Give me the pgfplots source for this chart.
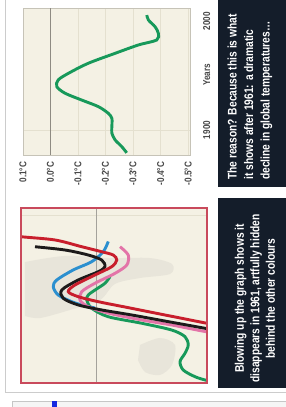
\documentclass[border=0pt]{standalone}
\usepackage{pgfplots}
\pgfplotsset{compat=1.18}
\usepackage{fontspec}
\setmainfont{Liberation Sans}
\newfontfamily\cb[FakeStretch=0.82]{Liberation Sans Bold}
\definecolor{cream}{HTML}{F4F1E4}
\definecolor{gridc}{HTML}{E4E0CF}
\definecolor{zeroc}{HTML}{8E8B82}
\definecolor{tgreen}{HTML}{17995A}
\definecolor{tred}{HTML}{C81E2C}
\definecolor{tblack}{HTML}{1C1A1A}
\definecolor{tblue}{HTML}{2B8FCF}
\definecolor{tpink}{HTML}{E374A8}
\definecolor{frame}{HTML}{C94A5C}
\definecolor{navy}{HTML}{141D2A}
\definecolor{smudge}{HTML}{E8E5DA}
\definecolor{labc}{HTML}{484848}
\definecolor{bluemark}{HTML}{1428E0}
\begin{document}
\begin{tikzpicture}[x=1pt,y=1pt]
\fill[white] (0,0) rectangle (286,407);
\useasboundingbox (0,0) rectangle (286,407);
% outer frame
\draw[gray!40, line width=0.7pt] (5,407) -- (5,15) -- (286,15);
\fill[gray!8] (12,0) rectangle (286,6);
\draw[gray!45, line width=0.6pt] (12,0) -- (12,6) -- (286,6);
\fill[bluemark] (52,0) rectangle (57,6);
% caption boxes
\fill[navy] (218,220) rectangle (286,407);
\fill[navy] (218,19) rectangle (286,209);
\node[rotate=90, text=white, align=left, inner sep=0pt,
      font=\cb\fontsize{12.5}{16.5}\selectfont] at (250,310)
  {The reason? Because this is what\\it shows after 1961: a dramatic\\decline in global temperatures\ldots};
\node[rotate=90, text=white, align=center, inner sep=0pt,
      font=\cb\fontsize{12.5}{15.5}\selectfont] at (255,108.5)
  {Blowing up the graph shows it\\disappears in 1961, artfully hidden\\behind the other colours};

% ---------------- top chart ----------------
\begin{axis}[
  at={(23pt,252pt)}, anchor=south west,
  width=167pt, height=147pt, scale only axis,
  xmin=-0.507, xmax=0.1, x dir=reverse,
  ymin=1877, ymax=2012,
  axis background/.style={fill=cream},
  axis line style={draw=gridc!70!gray, line width=0.6pt},
  tick style={draw=none},
  xtick={0.1,0,-0.1,-0.2,-0.3,-0.4,-0.5},
  xticklabels={0.1°C,0.0°C,-0.1°C,-0.2°C,-0.3°C,-0.4°C,-0.5°C},
  xmajorgrids, ymajorgrids,
  major grid style={draw=gridc, line width=0.6pt},
  ytick={1900}, yticklabels={1900},
  extra y ticks={2000}, extra y tick labels={2000},
  extra y tick style={grid=none},
  yticklabel pos=right,
  xticklabel style={yshift=-3.3pt, rotate=90, anchor=east, text=labc,
    font=\cb\fontsize{10}{10}\selectfont},
  yticklabel style={xshift=16.7pt, rotate=90, anchor=center, text=labc,
    font=\cb\fontsize{10}{10}\selectfont},
  ylabel={Years},
  ylabel style={at={(axis description cs:1.1,0.544)}, anchor=center, text=labc,
    font=\cb\fontsize{10}{10}\selectfont},
]
\addplot[zeroc, line width=1.1pt] coordinates {(0,1877) (0,2012)};
\addplot[tgreen, line width=2.9pt, smooth] coordinates {
(-0.277,1879) (-0.259,1884.7) (-0.235,1890.8) (-0.223,1897) (-0.223,1903)
(-0.223,1910.7) (-0.210,1915.3) (-0.174,1921.4) (-0.113,1927.5) (-0.053,1933.7)
(-0.023,1939.7) (-0.028,1945.9) (-0.065,1952) (-0.137,1961.2) (-0.235,1970.4)
(-0.319,1978) (-0.386,1982.6) (-0.392,1988.7) (-0.380,1994.8) (-0.356,2000.9)
(-0.350,2005.5)};
\end{axis}

% ---------------- bottom chart ----------------
\begin{axis}[
  at={(21pt,24pt)}, anchor=south west,
  width=186pt, height=175pt, scale only axis,
  xmin=-0.444, xmax=0.3, x dir=reverse,
  ymin=1850, ymax=2000,
  axis background/.style={fill=cream},
  axis line style={draw=frame, line width=1.8pt},
  ticks=none, axis on top,
]
\addplot[fill=smudge, draw=none, smooth] coordinates {
(0.284,1953.7) (0.124,1958.9) (-0.056,1957.1) (-0.216,1957.1) (-0.304,1952.0)
(-0.296,1943.4) (-0.176,1940.0) (-0.076,1934.9) (-0.016,1921.1) (0.104,1912.6)
(0.224,1905.7) (0.284,1907.4)} -- cycle;
\addplot[fill=smudge, draw=none, smooth] coordinates {
(-0.176,1882.6) (-0.256,1888.6) (-0.316,1882.6) (-0.304,1865.4) (-0.256,1856.9)
(-0.196,1859.4) (-0.168,1869.7)} -- cycle;
\addplot[gridc, line width=0.6pt] coordinates {(0.3,1994) (-0.444,1994)};
\addplot[zeroc!80, line width=0.7pt] coordinates {(0,1850) (0,2000)};
% green
\addplot[tgreen, line width=2.9pt, smooth] coordinates {
(-0.056,1941.1) (-0.036,1935.5) (0.004,1929.7) (0.031,1925.4) (0.037,1921.1)
(0.017,1914.0) (-0.049,1906.8) (-0.183,1901.2) (-0.303,1895.4) (-0.356,1889.7)
(-0.369,1882.6) (-0.356,1875.5) (-0.336,1868.3) (-0.349,1861.1) (-0.396,1855.4)
(-0.436,1852.6) (-0.47,1851)};
% blue
\addplot[tblue, line width=2.9pt, smooth] coordinates {
(-0.049,1971.3) (-0.029,1962.5) (0.017,1954.0) (0.091,1946.9) (0.157,1938.3)
(0.171,1932.5) (0.151,1925.4) (0.097,1919.7) (0.057,1916.9) (0.004,1914.3)};
% pink
\addplot[tpink, line width=2.9pt, smooth] coordinates {
(-0.096,1966.8) (-0.129,1959.7) (-0.123,1951.1) (-0.076,1944.0) (0.004,1935.5)
(0.057,1928.3) (0.064,1921.1) (0.031,1915.4) (-0.049,1909.9) (-0.183,1904.0)
(-0.303,1899.7) (-0.436,1894.1) (-0.47,1893)};
% black
\addplot[tblack, line width=2.9pt, smooth] coordinates {
(0.244,1966.8) (0.124,1964.0) (0.031,1959.7) (-0.023,1955.4) (-0.036,1949.7)
(-0.009,1945.4) (0.071,1938.3) (0.137,1929.7) (0.131,1922.6) (0.071,1916.9)
(-0.023,1912.6) (-0.143,1908.3) (-0.276,1903.1) (-0.436,1896.9) (-0.47,1895.6)};
% red
\addplot[tred, line width=2.9pt, smooth] coordinates {
(0.324,1976.9) (0.300,1975.4) (0.164,1972.6) (0.057,1966.8) (-0.023,1962.5)
(-0.069,1959.7) (-0.083,1955.4) (-0.063,1949.7) (0.004,1942.6) (0.084,1934.0)
(0.111,1928.3) (0.071,1924.0) (-0.009,1919.7) (-0.143,1914.0) (-0.276,1908.3)
(-0.443,1901.2) (-0.47,1900)};
\end{axis}
\end{tikzpicture}
\end{document}
